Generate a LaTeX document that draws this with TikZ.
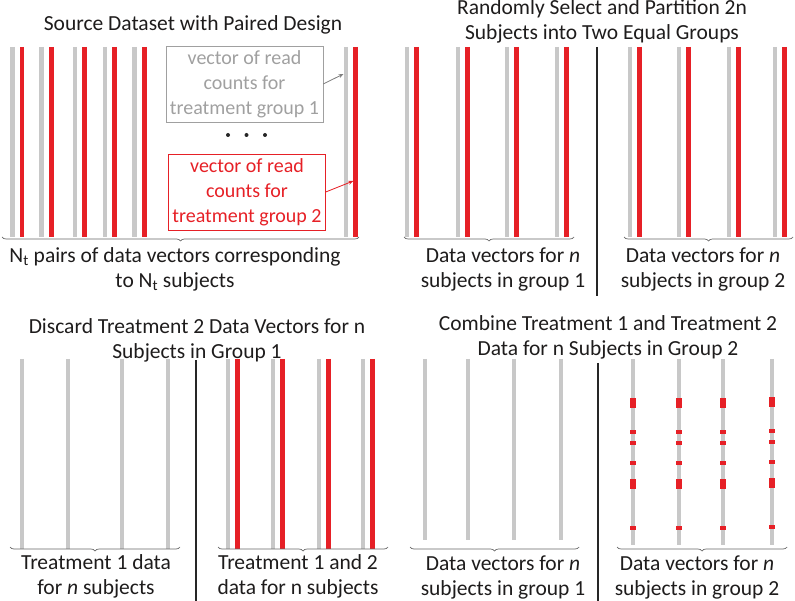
\documentclass[tikz,border=0pt]{standalone}
\usepackage{fontspec}
\setmainfont{Carlito}
\usetikzlibrary{decorations.pathreplacing,positioning,arrows.meta}
\definecolor{barGray}{RGB}{200,200,200}
\definecolor{barRed}{RGB}{230,32,38}
\definecolor{txtDark}{RGB}{30,28,28}
\definecolor{txtGray}{RGB}{160,160,160}
\tikzset{
	gbar/.style={draw=barGray, line width=4.5pt},
	rbar/.style={draw=barRed, line width=4.5pt},
	rmark/.style={fill=barRed},
	divider/.style={draw=black!85, line width=2.5pt},
	brc/.style={draw=black!60, line width=0.7pt, decorate, decoration={brace,mirror,amplitude=4pt}},
	ttl/.style={font=\fontsize{21.5}{25}\selectfont, text=txtDark, align=center, inner sep=0},
	lbl/.style={font=\fontsize{21.5}{25}\selectfont, text=txtDark, align=center, inner sep=0},
	callout/.style={draw, font=\fontsize{20}{25}\selectfont, align=center, minimum width=157pt, minimum height=76pt, inner sep=2pt},
	ptr/.style={-{Stealth[width=4pt,length=5pt]}, line width=0.8pt}
}
\begin{document}
\begin{tikzpicture}[x=1pt,y=-1pt]
	\useasboundingbox (0,0) rectangle (795,601);
	
	%%% source dataset
	\node[ttl] (t1) at (193,25) {Source Dataset with Paired Design};
	\foreach \x in {12.3,41.7,75,105,134.7,346}{
		\draw[gbar] (\x,47) -- (\x,237);
		\draw[rbar] (\x+9.7,47) -- (\x+9.7,237);
	}
	\node[callout, draw=txtGray, text=txtGray] (gbox) at (244.5,84) {vector of read\\counts for\\treatment group 1};
	\node[callout, draw=barRed, text=barRed] (rbox) at (247,192) {vector of read\\counts for\\treatment group 2};
	\foreach \x in {228,246.5,265}
		\fill[black!85] (\x,135) circle (2pt);
	\coordinate (g1) at (343.5,74);
	\coordinate (r1) at (353.3,181);
	\draw[ptr, draw=gray, fill=gray] (gbox.east) -- (g1);
	\draw[ptr, draw=barRed, fill=barRed] (rbox.east) -- (r1);
	\coordinate (b1l) at (2,237);
	\coordinate (b1r) at (359,237);
	\draw[brc] (b1l) -- (b1r);
	\node[lbl] (l1) at (175,269.5) {N\textsubscript{t} pairs of data vectors corresponding\\to N\textsubscript{t} subjects};
	
	%%% random partition
	\node[ttl] (t2) at (602,21.5) {Randomly Select and Partition 2n\\Subjects into Two Equal Groups};
	\foreach \x in {407,458,507,557,630,679,729,775}{
		\draw[gbar] (\x,47) -- (\x,237);
		\draw[rbar] (\x+9.5,47) -- (\x+9.5,237);
	}
	\coordinate (d2t) at (597,47);
	\coordinate (d2b) at (597,296);
	\draw[divider] (d2t) -- (d2b);
	\coordinate (b2l) at (404,237);
	\coordinate (b2r) at (574,237);
	\coordinate (b3l) at (624,237);
	\coordinate (b3r) at (793,237);
	\draw[brc] (b2l) -- (b2r);
	\draw[brc] (b3l) -- (b3r);
	\node[lbl] (l2) at (503,269.5) {Data vectors for \textit{n}\\subjects in group 1};
	\node[lbl] (l3) at (703,269.5) {Data vectors for \textit{n}\\subjects in group 2};
	
	%%% discard treatment 2
	\node[ttl] (t3) at (197,340) {Discard Treatment 2 Data Vectors for n\\Subjects in Group 1};
	\foreach \x in {22,68,122,168}
		\draw[gbar] (\x,359) -- (\x,549);
	\foreach \x in {228,273,319,363}{
		\draw[gbar] (\x,359) -- (\x,549);
		\draw[rbar] (\x+9.3,359) -- (\x+9.3,549);
	}
	\coordinate (d3t) at (196,360);
	\coordinate (d3b) at (196,601);
	\draw[divider] (d3t) -- (d3b);
	\coordinate (b4l) at (10,547);
	\coordinate (b4r) at (180,547);
	\coordinate (b5l) at (218,547);
	\coordinate (b5r) at (388,547);
	\draw[brc] (b4l) -- (b4r);
	\draw[brc] (b5l) -- (b5r);
	\node[lbl] (l4) at (96,576) {Treatment 1 data\\for \textit{n} subjects};
	\node[lbl] (l5) at (298,576) {Treatment 1 and 2\\data for n subjects};
	
	%%% combine treatments
	\node[ttl] (t4) at (608,337) {Combine Treatment 1 and Treatment 2\\Data for n Subjects in Group 2};
	\foreach \x in {425,468,514,561}
		\draw[gbar] (\x,359) -- (\x,540);
	\foreach \x/\s in {633/0,679/0,723/0,772/-1.5}{
		\draw[gbar] (\x,359) -- (\x,545);
		\foreach \y/\h in {403/10,432/4,443/4,463/4,484/10,528/4}
			\fill[rmark] (\x-3.2,\y+\s-\h/2) rectangle (\x+3.2,\y+\s+\h/2);
	}
	\coordinate (d4t) at (598,363);
	\coordinate (d4b) at (598,601);
	\draw[divider] (d4t) -- (d4b);
	\coordinate (b6l) at (410,547);
	\coordinate (b6r) at (579,547);
	\coordinate (b7l) at (617,547);
	\coordinate (b7r) at (787,547);
	\draw[brc] (b6l) -- (b6r);
	\draw[brc] (b7l) -- (b7r);
	\node[lbl] (l6) at (503,577) {Data vectors for \textit{n}\\subjects in group 1};
	\node[lbl] (l7) at (697,577) {Data vectors for \textit{n}\\subjects in group 2};
\end{tikzpicture}
\end{document}
